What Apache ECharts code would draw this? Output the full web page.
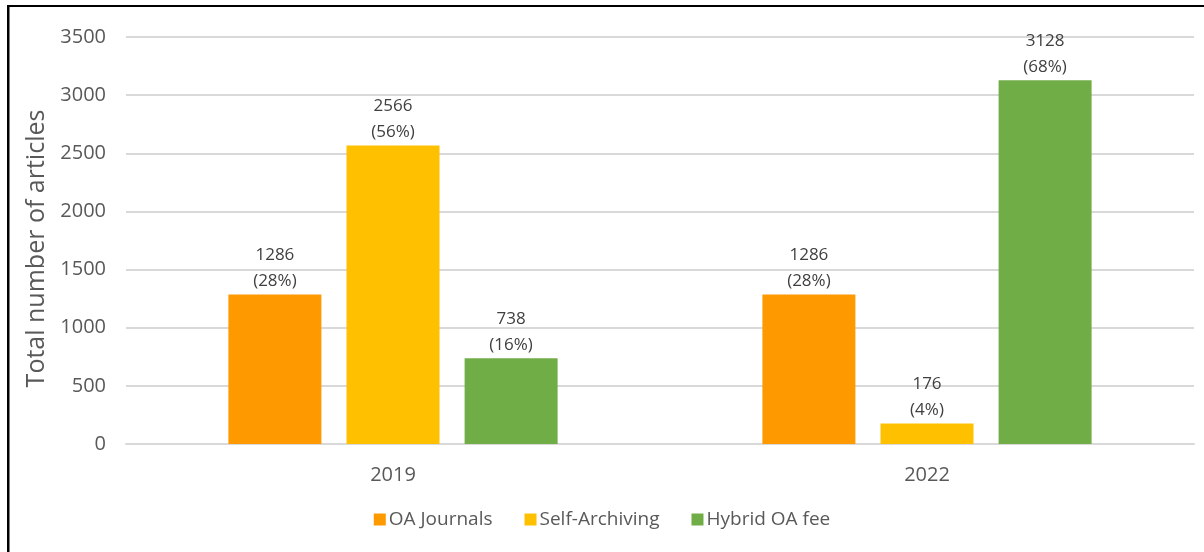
<!DOCTYPE html>
<html>
<head>
<meta charset="utf-8">
<script src="https://cdn.jsdelivr.net/npm/echarts@6/dist/echarts.min.js"></script>
<style>
  html, body { margin: 0; padding: 0; background: #fff; }
  #chart { width: 1204px; height: 552px; }
</style>
</head>
<body>
<div id="chart"></div>
<script>
const years = ["2019", "2022"];
const oaJournals = [1286, 1286];
const selfArchiving = [2566, 176];
const hybridFee = [738, 3128];
const oaJournalsPct = ["28%", "28%"];
const selfArchivingPct = ["56%", "4%"];
const hybridFeePct = ["16%", "68%"];
const yTicks = [0, 500, 1000, 1500, 2000, 2500, 3000, 3500];

const font = "'Open Sans', 'Liberation Sans', sans-serif";

function makeSeries(name, values, pcts, color) {
  return {
    name: name,
    type: "bar",
    data: values,
    barWidth: 93,
    barGap: "27%",
    itemStyle: { color: color },
    label: {
      show: true,
      position: "top",
      distance: 0,
      color: "#404040",
      fontFamily: font,
      fontSize: 17,
      lineHeight: 26,
      formatter: (p) => p.value + "\n(" + pcts[p.dataIndex] + ")",
    },
  };
}

const chart = echarts.init(document.getElementById("chart"));
chart.setOption({
  backgroundColor: "#ffffff",
  animation: false,
  textStyle: { fontFamily: font },
  grid: { left: 126, right: 10, top: 37, bottom: 108 },
  legend: {
    bottom: 18,
    left: "center",
    itemWidth: 12,
    itemHeight: 12,
    itemGap: 32,
    icon: "rect",
    textStyle: { color: "#595959", fontSize: 19, fontFamily: font, padding: [0, 0, 0, -2] },
    data: ["OA Journals", "Self-Archiving", "Hybrid OA fee"],
  },
  xAxis: {
    type: "category",
    data: years,
    axisLine: { lineStyle: { color: "#d9d9d9", width: 2 } },
    axisTick: { show: false },
    axisLabel: { color: "#595959", fontSize: 20, fontFamily: font, margin: 21 },
  },
  yAxis: {
    type: "value",
    min: yTicks[0],
    max: yTicks[yTicks.length - 1],
    interval: 500,
    name: "Total number of articles",
    nameLocation: "middle",
    nameGap: 74,
    nameRotate: 90,
    nameTextStyle: { color: "#595959", fontSize: 25, fontFamily: font, padding: [0, 16, 0, 0] },
    axisLine: { show: false },
    axisTick: { show: false },
    axisLabel: { color: "#595959", fontSize: 20, fontFamily: font, margin: 20, formatter: (v) => String(v) },
    splitLine: { lineStyle: { color: "#d9d9d9", width: 2 } },
  },
  graphic: [
    { type: "rect", shape: { x: 7, y: 5, width: 1200, height: 2 }, style: { fill: "#000" } },
    { type: "rect", shape: { x: 7, y: 5, width: 2.5, height: 560 }, style: { fill: "#000" } },
  ],
  series: [
    makeSeries("OA Journals", oaJournals, oaJournalsPct, "#FF9900"),
    makeSeries("Self-Archiving", selfArchiving, selfArchivingPct, "#FFC000"),
    makeSeries("Hybrid OA fee", hybridFee, hybridFeePct, "#70AD47"),
  ],
});
</script>
</body>
</html>
